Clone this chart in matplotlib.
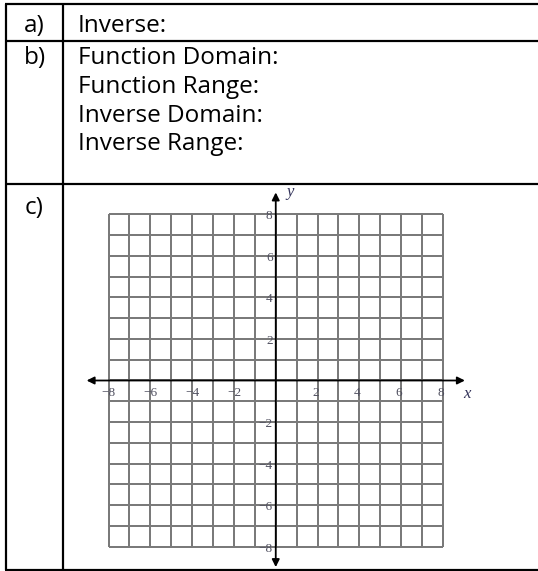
"""
Worksheet table: inverse function answers with a blank coordinate grid.
"""

import matplotlib.pyplot as plt

W, H = 538, 571

row_labels = ["a)", "b)", "c)"]
row_a_lines = ["Inverse:"]
row_b_lines = ["Function Domain:", "Function Range:", "Inverse Domain:", "Inverse Range:"]

grid_min, grid_max = -8, 8
x_ticks = [-8, -6, -4, -2, 2, 4, 6, 8]
y_ticks = [8, 6, 4, 2, -2, -4, -6, -8]

TEXT_FONT = ["Open Sans", "DejaVu Sans"]
TICK_FONT = ["Liberation Serif", "DejaVu Serif"]


def px(v):
    """pixels -> points at 100 dpi"""
    return v * 72 / 100


fig = plt.figure(figsize=(W / 100, H / 100), dpi=100)

# ---- table (pixel coordinates) ----
tab = fig.add_axes([0, 0, 1, 1])
tab.set_xlim(0, W)
tab.set_ylim(H, 0)
tab.axis("off")

lw = px(2.2)
left, divider, right = 6, 63, W
top, row1, row2, bottom = 4, 41, 184, 570
for y in (top, row1, row2, bottom):
    tab.plot([left - 1, right], [y, y], color="black", lw=lw, solid_capstyle="butt")
for x in (left, divider):
    tab.plot([x, x], [top, bottom], color="black", lw=lw, solid_capstyle="butt")

fs = 17.5
label_baselines = [32, 64, 214]
for lab, yb in zip(row_labels, label_baselines):
    tab.text(34.5, yb, lab, ha="center", va="baseline", fontsize=fs, family=TEXT_FONT)

tab.text(78, 32, row_a_lines[0], ha="left", va="baseline", fontsize=fs, family=TEXT_FONT)
for i, line in enumerate(row_b_lines):
    tab.text(78, 64 + i * 28.8, line, ha="left", va="baseline", fontsize=fs, family=TEXT_FONT)

# ---- coordinate grid ----
cx, cy = 275.75, 380.5
ux, uy = 20.9, 20.78
xlo, xhi = -9.3, 9.3
ylo, yhi = -9.1, 9.3
l_px = cx + xlo * ux
r_px = cx + xhi * ux
t_px = cy - yhi * uy
b_px = cy - ylo * uy
ax = fig.add_axes([l_px / W, (H - b_px) / H, (r_px - l_px) / W, (b_px - t_px) / H])
ax.set_xlim(xlo, xhi)
ax.set_ylim(ylo, yhi)
ax.axis("off")
ax.patch.set_alpha(0)

vals = list(range(grid_min, grid_max + 1))
ax.vlines(vals, grid_min, grid_max, color="#7a7a7a", lw=px(2.0), zorder=1)
ax.hlines(vals, grid_min, grid_max, color="#7a7a7a", lw=px(2.0), zorder=1)

arrow = dict(arrowstyle="<|-|>", color="black", lw=px(1.8), mutation_scale=11,
             shrinkA=0, shrinkB=0)
ax.annotate("", xy=(9.05, 0), xytext=(-9.05, 0), arrowprops=arrow, zorder=3,
            annotation_clip=False)
ax.annotate("", xy=(0, 9.05), xytext=(0, -8.98), arrowprops=arrow, zorder=3,
            annotation_clip=False)

tick_color = "#505060"
tfs = 9.5
for v in x_ticks:
    if v < 0:
        ax.text(v + 0.35, -0.6, "\u2212" + str(-v), ha="right", va="center",
                fontsize=tfs, color=tick_color, family=TICK_FONT, zorder=4)
    else:
        ax.text(v - 0.1, -0.6, str(v), ha="center", va="center",
                fontsize=tfs, color=tick_color, family=TICK_FONT, zorder=4)
for v in y_ticks:
    lab = str(v) if v > 0 else "\u2212" + str(-v)
    ax.text(-0.15, v - 0.1, lab, ha="right", va="center",
            fontsize=tfs, color=tick_color, family=TICK_FONT, zorder=4)

ax.text(0.5, 9.05, "y", ha="left", va="center", fontsize=12, style="italic",
        color="#33335a", family=TICK_FONT)
ax.text(8.95, -0.65, "x", ha="left", va="center", fontsize=12, style="italic",
        color="#33335a", family=TICK_FONT)

fig.savefig("out.png", dpi=100)
